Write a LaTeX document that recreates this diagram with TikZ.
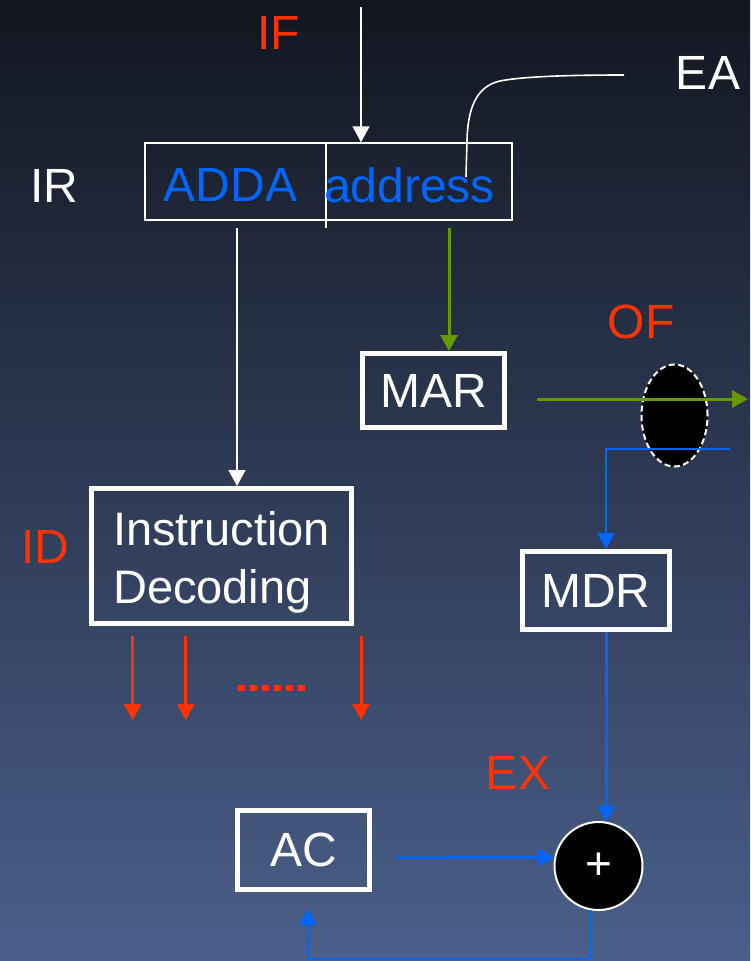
\documentclass[tikz,border=0pt]{standalone}
\usepackage{fontspec}
\setmainfont{Liberation Sans}
\usetikzlibrary{arrows.meta,shapes.geometric}
\definecolor{bgtop}{RGB}{18,22,32}
\definecolor{bgbot}{RGB}{74,95,138}
\definecolor{lblred}{RGB}{255,51,0}
\definecolor{regblue}{RGB}{0,102,255}
\definecolor{busgreen}{RGB}{102,153,0}
\begin{document}
\begin{tikzpicture}[x=1pt,y=-1pt,
  lbl/.style={inner sep=0,font=\fontsize{48}{58}\selectfont},
  redlbl/.style={lbl,text=lblred},
  whitelbl/.style={lbl,text=white},
  bluelbl/.style={lbl,text=regblue},
  regbox/.style={draw=white,line width=5,inner sep=0,text=white,font=\fontsize{48}{58}\selectfont},
  tip/.style={-{Triangle[width=17pt,length=16pt]}},
  wline/.style={draw=white,line width=1.6,tip},
  gline/.style={draw=busgreen,line width=3,tip},
  bline/.style={draw=regblue,line width=2.6,tip},
  rline/.style={draw=lblred,line width=3,tip}
]
\useasboundingbox (0,0) rectangle (750,961);
\fill[top color=bgtop,bottom color=bgbot] (0,0) rectangle (750,961);

% labels
\node[redlbl] (lif) at (278.5,32.5) {IF};
\node[whitelbl] (lir) at (54,186) {IR};
\node[whitelbl] (lea) at (708,72.5) {EA};
\node[redlbl] (lof) at (641,322) {OF};
\node[redlbl] (lid) at (45.5,547) {ID};
\node[redlbl] (lex) at (518,773) {EX};

% IR register
\node[draw=white,line width=1.5,minimum width=367,minimum height=77,inner sep=0] (ir) at (328.5,181.5) {};
\coordinate (divtop) at (326,143);
\coordinate (divbot) at (326,228);
\draw[white,line width=1.5] (divtop) -- (divbot);
\node[bluelbl] (adda) at (230.5,185) {ADDA};
\node[bluelbl] (addr) at (409.5,185) {address};

% EA curve
\coordinate (eas) at (624,75);
\coordinate (eae) at (466,177);
\draw[white,line width=1.6] (eas) .. controls (560,75) and (520,77) .. (500,81)
  .. controls (478,86) and (468,105) .. (467,140) -- (eae);

% IF arrow
\coordinate (iftop) at (361,7);
\draw[wline] (iftop) -- (iftop |- ir.north);

% boxes
\node[regbox,minimum width=142,minimum height=74] (mar) at (433.5,390.5) {MAR};
\node[regbox,minimum width=260,minimum height=135] (id) at (221.5,556) {};
\node[inner sep=0,align=left,text=white,font=\fontsize{47}{58}\selectfont,yshift=-6] (idtxt) at (id.center) {Instruction\\Decoding};
\node[regbox,minimum width=147,minimum height=78] (mdr) at (596,590.5) {MDR};
\node[regbox,minimum width=132,minimum height=79] (ac) at (303.5,850) {AC};

% ADDA -> ID
\coordinate (aout) at (237,228);
\draw[wline] (aout) -- (aout |- id.north);
% address -> MAR
\coordinate (gout) at (449,228);
\draw[gline] (gout) -- (gout |- mar.north);

% OF gate
\node[ellipse,fill=black,draw=white,line width=2,dash pattern=on 6 off 3.5,minimum width=66,minimum height=102,inner sep=0] (gate) at (674.5,415.5) {};
\coordinate (mout) at (537,399);
\coordinate (busend) at (748,399);
\draw[gline] (mout) -- (busend);
\coordinate (bstart) at (730,449);
\coordinate (bcorner) at (606,449);
\draw[bline] (bstart) -- (bcorner) -- (bcorner |- mdr.north);

% adder
\node[circle,fill=black,draw=white,line width=2,minimum size=88,inner sep=0,text=white,font=\fontsize{46}{50}\selectfont] (plus) at (598.5,866) {+};
\draw[bline] (plus.80 |- mdr.south) -- (plus.80);
\coordinate (acout) at (396,857.6);
\draw[bline] (acout) -- (plus.169);
\coordinate (fbl) at (308,959);
\coordinate (acin) at (308,909);
\draw[bline] (plus.259) |- (fbl) -- (acin);

% decode outputs
\coordinate (r1s) at (132.7,636); \coordinate (r1e) at (132.7,720);
\coordinate (r2s) at (185.7,636); \coordinate (r2e) at (185.7,720);
\coordinate (r3s) at (361,636); \coordinate (r3e) at (361,720);
\draw[rline] (r1s) -- (r1e);
\draw[rline] (r2s) -- (r2e);
\draw[rline] (r3s) -- (r3e);
\coordinate (dots) at (238,688);
\coordinate (dote) at (305,688);
\draw[lblred,line width=5.7,dash pattern=on 6.7 off 5.3] (dots) -- (dote);
\end{tikzpicture}
\end{document}
